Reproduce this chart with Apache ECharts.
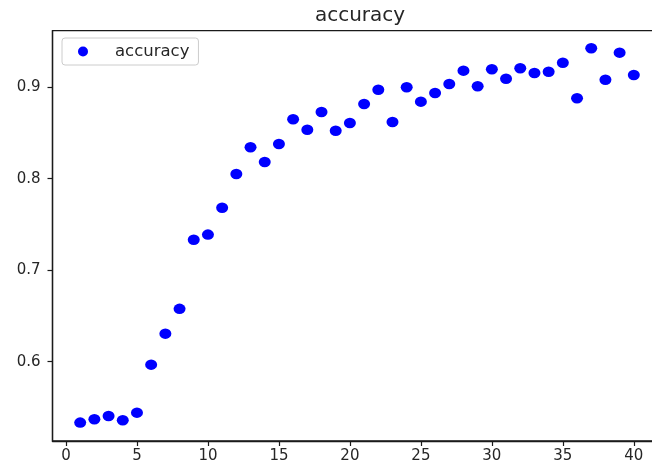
<!DOCTYPE html>
<html>
<head>
<meta charset="utf-8">
<script src="https://cdn.jsdelivr.net/npm/echarts@6/dist/echarts.min.js"></script>
<style>
  html, body { margin: 0; padding: 0; background: #fff; }
  #chart { width: 652px; height: 470px; }
</style>
</head>
<body>
<div id="chart"></div>
<script>
// Epochs 1..40 and the training accuracy recorded at each epoch
const epochs = [1, 2, 3, 4, 5, 6, 7, 8, 9, 10,
                11, 12, 13, 14, 15, 16, 17, 18, 19, 20,
                21, 22, 23, 24, 25, 26, 27, 28, 29, 30,
                31, 32, 33, 34, 35, 36, 37, 38, 39, 40];
const accuracy = [0.5333, 0.5370, 0.5406, 0.5359, 0.5442, 0.5967, 0.6306, 0.6577, 0.7332, 0.7389,
                  0.7683, 0.8051, 0.8344, 0.8183, 0.8380, 0.8650, 0.8536, 0.8730, 0.8525, 0.8609,
                  0.8817, 0.8974, 0.8620, 0.9000, 0.8843, 0.8938, 0.9036, 0.9182, 0.9011, 0.9197,
                  0.9094, 0.9208, 0.9156, 0.9171, 0.9269, 0.8880, 0.9427, 0.9083, 0.9379, 0.9135];
const xTicks = [0, 5, 10, 15, 20, 25, 30, 35, 40];
const yTicks = [0.6, 0.7, 0.8, 0.9];

const FONT = 'DejaVu Sans';
const INK = '#262626';

const chart = echarts.init(document.getElementById('chart'), null, { renderer: 'canvas' });

chart.setOption({
  animation: false,
  backgroundColor: '#ffffff',
  title: {
    text: 'accuracy',
    left: 355, top: 1,
    textAlign: 'center',
    textStyle: { fontFamily: FONT, fontSize: 20, fontWeight: 'normal', color: INK }
  },
  legend: {
    left: 62, top: 38,
    padding: [5, 9, 5, 16],
    borderColor: '#cccccc', borderWidth: 1, borderRadius: 3,
    backgroundColor: 'rgba(255,255,255,0.8)',
    itemWidth: 12, itemHeight: 10,
    icon: 'circle',
    textStyle: { fontFamily: FONT, fontSize: 16.5, color: INK, padding: [0, 0, 0, 21] },
    data: ['accuracy']
  },
  grid: {
    left: 52.5, top: 30.7, width: 609, height: 410.3,
    outerBoundsMode: 'none',
    containLabel: false,
    show: true, borderColor: '#1a1a1a', borderWidth: 1.3, backgroundColor: 'transparent'
  },
  xAxis: {
    type: 'value',
    min: -0.95, max: 41.95,
    axisLine: { show: true, onZero: false, lineStyle: { color: '#1a1a1a', width: 1.3 } },
    axisTick: { show: true, length: 5, customValues: xTicks, lineStyle: { color: '#1a1a1a', width: 1.2 } },
    axisLabel: { customValues: xTicks, margin: 8, fontFamily: FONT, fontSize: 15, color: INK },
    splitLine: { show: false }
  },
  yAxis: {
    type: 'value',
    min: 0.5132, max: 0.9619,
    axisLine: { show: true, onZero: false, lineStyle: { color: '#1a1a1a', width: 1.3 } },
    axisTick: { show: true, length: 5, customValues: yTicks, lineStyle: { color: '#1a1a1a', width: 1.2 } },
    axisLabel: { customValues: yTicks, margin: 12, fontFamily: FONT, fontSize: 15, color: INK,
                 formatter: v => v.toFixed(1) },
    splitLine: { show: false }
  },
  series: [{
    name: 'accuracy',
    type: 'scatter',
    symbol: 'circle',
    symbolSize: [12, 10.5],
    itemStyle: { color: '#0000ff', opacity: 1 },
    data: epochs.map((e, i) => [e, accuracy[i]])
  }]
});
</script>
</body>
</html>
